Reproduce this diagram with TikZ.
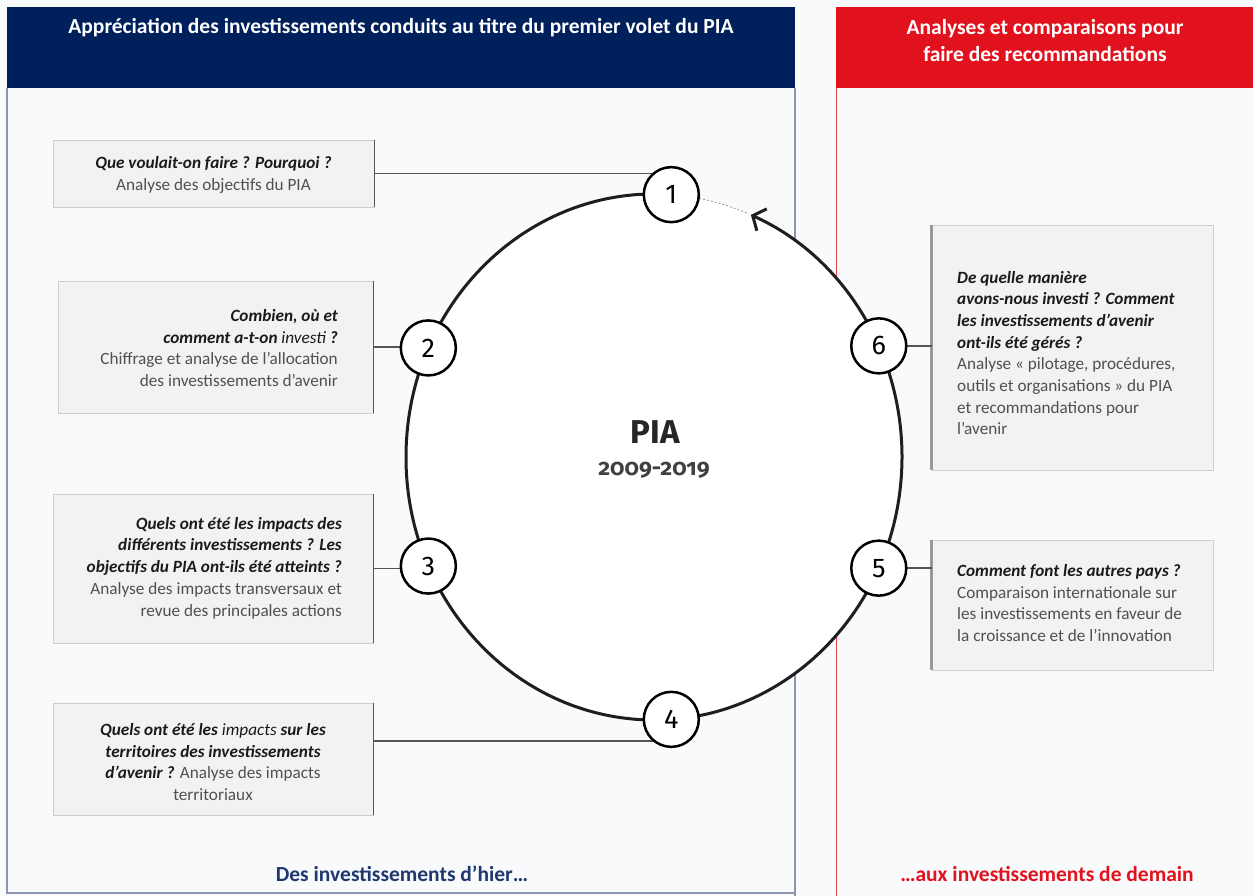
\documentclass[tikz,border=0pt]{standalone}
\usepackage{fontspec}
\setmainfont{Carlito}
\newfontfamily\firaf{Fira Sans}
\usetikzlibrary{arrows.meta}
\definecolor{bgc}{RGB}{248,250,252}
\definecolor{navyc}{RGB}{0,32,92}
\definecolor{redc}{RGB}{225,18,30}
\definecolor{panelc}{RGB}{138,150,175}
\definecolor{boxfill}{RGB}{242,242,242}
\definecolor{boxedge}{RGB}{205,205,205}
\definecolor{qcol}{RGB}{26,26,26}
\definecolor{dcol}{RGB}{80,80,80}
\definecolor{connc}{RGB}{85,85,85}
\definecolor{ringc}{RGB}{30,30,30}
\definecolor{navytxt}{RGB}{31,56,112}
\newcommand\qtxt[1]{{\color{qcol}\bfseries\itshape #1}}
\tikzset{
  boxstyle/.style={fill=boxfill, draw=boxedge, line width=0.8pt, inner sep=0pt},
  txt/.style={inner sep=0pt, text=dcol, font=\fontsize{17.2}{21.7}\selectfont},
  num/.style={circle, draw=black, line width=2.5pt, fill=white, minimum size=55pt, inner sep=0pt, font=\fontsize{27}{27}\selectfont\firaf},
  conn/.style={draw=connc, line width=1.6pt},
  ring/.style={line width=3pt, draw=ringc},
  sideL/.style={draw=connc, line width=1.6pt},
  sideR/.style={draw=black!40, line width=3pt},
}
\begin{document}
\begin{tikzpicture}[x=1pt,y=-1pt]
\useasboundingbox (0,0) rectangle (1253,896);
\fill[bgc] (0,0) rectangle (1253,896);
% left panel
\draw[panelc, line width=1.2pt] (7,88) -- (7,893) -- (795,893);
\draw[panelc, line width=2.5pt] (795,88) -- (795,896);
\fill[navyc] (7,7) rectangle (795,88);
\node[inner sep=0pt, text=white, font=\fontsize{21.5}{24}\selectfont\bfseries] (h1) at (401,28) {Appréciation des investissements conduits au titre du premier volet du PIA};
\node[inner sep=0pt, text=navytxt, font=\fontsize{21.5}{24}\selectfont\bfseries] (f1) at (402,874) {Des investissements d’hier…};
% right panel
\draw[redc!80, line width=1pt] (836,88) -- (836,896);
\fill[redc] (836,7) rectangle (1253,88);
\node[inner sep=0pt, text=white, align=center, font=\fontsize{21.5}{27}\selectfont\bfseries] (h2) at (1045,41) {Analyses et comparaisons pour\\faire des recommandations};
\node[inner sep=0pt, text=redc, font=\fontsize{21.5}{24}\selectfont\bfseries] (f2) at (1047,874) {…aux investissements de demain};

% boxes
\node[boxstyle, minimum width=321pt, minimum height=67pt] (b1) at (213.5,173.5) {};
\node[boxstyle, minimum width=315pt, minimum height=132pt] (b2) at (215.5,347) {};
\node[boxstyle, minimum width=320pt, minimum height=149pt] (b3) at (213,568.5) {};
\node[boxstyle, minimum width=320pt, minimum height=112pt] (b4) at (213,759) {};
\node[boxstyle, minimum width=281pt, minimum height=245pt] (b6) at (1072.5,347.5) {};
\node[boxstyle, minimum width=281pt, minimum height=130pt] (b5) at (1072.5,605) {};
\draw[sideL] (b1.north east) -- (b1.south east);
\draw[sideL] (b2.north east) -- (b2.south east);
\draw[sideL] (b3.north east) -- (b3.south east);
\draw[sideL] (b4.north east) -- (b4.south east);
\draw[sideR] (b6.north west) -- (b6.south west);
\draw[sideR] (b5.north west) -- (b5.south west);

% texts
\node[txt, align=center] (t1) at (213.5,175) {\qtxt{Que voulait-on faire ? Pourquoi ?}\\Analyse des objectifs du PIA};
\node[txt, align=right, anchor=east] (t2) at (338,348) {\qtxt{Combien, où et}\\\qtxt{comment a-t-on} {\color{qcol}\itshape investi} \qtxt{?}\\Chiffrage et analyse de l’allocation\\des investissements d’avenir};
\node[txt, align=right, anchor=east] (t3) at (342,568) {\qtxt{Quels ont été les impacts des}\\\qtxt{différents investissements ? Les}\\\qtxt{objectifs du PIA ont-ils été atteints ?}\\Analyse des impacts transversaux et\\revue des principales actions};
\node[txt, align=center] (t4) at (213,762) {\qtxt{Quels ont été les} {\color{qcol}\itshape impacts} \qtxt{sur les}\\\qtxt{territoires des investissements}\\\qtxt{d’avenir ?} Analyse des impacts\\territoriaux};
\node[txt, align=left, anchor=west] (t6) at (957,353) {\qtxt{De quelle manière}\\\qtxt{avons-nous investi ? Comment}\\\qtxt{les investissements d’avenir}\\\qtxt{ont-ils été gérés ?}\\Analyse « pilotage, procédures,\\outils et organisations » du PIA\\et recommandations pour\\l’avenir};
\node[txt, align=left, anchor=west] (t5) at (957,603) {\qtxt{Comment font les autres pays ?}\\Comparaison internationale sur\\les investissements en faveur de\\la croissance et de l’innovation};

% ring
\coordinate (O) at (654,457);
\path (O) ++(274:248 and 263) coordinate (p1);
\path (O) ++(204.5:248 and 263) coordinate (p2);
\path (O) ++(155.5:248 and 263) coordinate (p3);
\path (O) ++(86:248 and 263) coordinate (p4);
\path (O) ++(25:248 and 263) coordinate (p5);
\path (O) ++(335:248 and 263) coordinate (p6);
\fill[white] (O) ellipse [x radius=248, y radius=263];
\draw[ring, -{Straight Barb[length=10pt,width=24pt]}] (p1) arc[start angle=274, end angle=-67, x radius=248, y radius=263] coordinate (tip);
\draw[black!40, line width=0.8pt, dash pattern=on 2pt off 2pt] (p1) arc[start angle=274, end angle=292, x radius=248, y radius=263];

% connectors
\draw[conn] (b1.east) -- (b1.east -| p1);
\draw[conn] (b2.east) -- (b2.east -| p2);
\draw[conn] (b3.east) -- (b3.east -| p3);
\draw[conn] ([yshift=18pt]b4.east) -- ([yshift=18pt]b4.east -| p4);
\draw[conn] (p6) -- (p6 -| b6.west);
\draw[conn] (p5) -- (p5 -| b5.west);

% number nodes
\node[num] (n1) at (p1) {1};
\node[num] (n2) at (p2) {2};
\node[num] (n3) at (p3) {3};
\node[num] (n4) at (p4) {4};
\node[num] (n5) at (p5) {5};
\node[num] (n6) at (p6) {6};

% center
\node[inner sep=0pt, text=black!85, font=\fontsize{33}{33}\selectfont\firaf\bfseries] (pia) at (655,432) {PIA};
\node[inner sep=0pt, text=black!75, font=\fontsize{23}{23}\selectfont\firaf\bfseries\addfontfeatures{Numbers=OldStyle}] (yrs) at (654,470) {2009-2019};
\end{tikzpicture}
\end{document}
